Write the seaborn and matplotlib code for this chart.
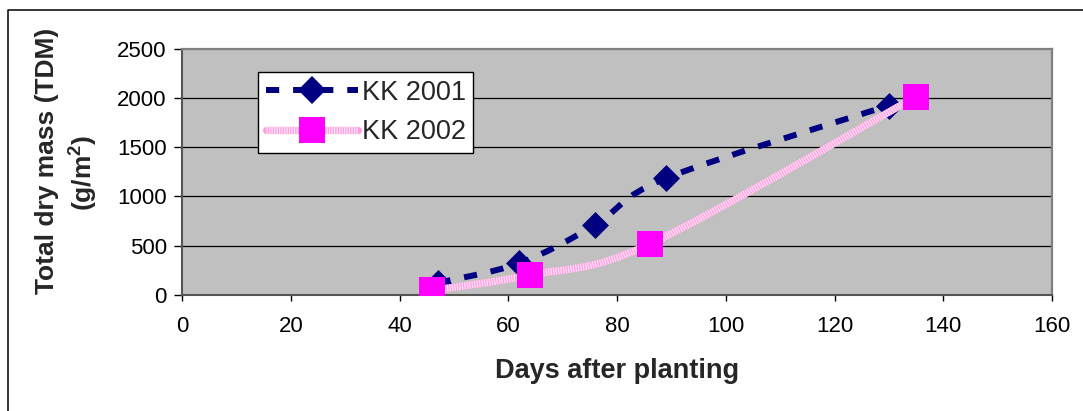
import numpy as np
import matplotlib
matplotlib.use("Agg")
import matplotlib.pyplot as plt
import seaborn as sns
from matplotlib.path import Path
from matplotlib.patches import PathPatch
from matplotlib.lines import Line2D
from matplotlib.legend_handler import HandlerTuple

# Total dry mass over the season for two planting years
days_2001 = [47, 62, 76, 89, 130]
tdm_2001 = [120, 320, 710, 1185, 1925]
days_2002 = [46, 64, 86, 135]
tdm_2002 = [45, 200, 515, 2015]
series_labels = ["KK 2001", "KK 2002"]
x_ticks = [0, 20, 40, 60, 80, 100, 120, 140, 160]
y_ticks = [0, 500, 1000, 1500, 2000, 2500]

NAVY = "#000080"
PINK_LINE = "#FF9FE0"
PINK_STRIPE = "#FFE2F6"
MAGENTA = "#FF00FF"
PLOT_BG = "#C0C0C0"

sns.set_theme(style="white")
plt.rcParams["font.family"] = ["Liberation Sans", "DejaVu Sans"]
plt.rcParams["mathtext.fontset"] = "custom"
plt.rcParams["mathtext.rm"] = "Liberation Sans"
plt.rcParams["mathtext.bf"] = "Liberation Sans:bold"
plt.rcParams["lines.scale_dashes"] = False


def smooth_path(xs, ys):
    """Cubic Bezier path through the points (Catmull-Rom style tangents)."""
    pts = np.column_stack([xs, ys]).astype(float)
    n = len(pts)
    verts = [pts[0]]
    codes = [Path.MOVETO]
    for i in range(n - 1):
        p0 = pts[max(i - 1, 0)]
        p1 = pts[i]
        p2 = pts[i + 1]
        p3 = pts[min(i + 2, n - 1)]
        c1 = p1 + (p2 - p0) / 6.0
        c2 = p2 - (p3 - p1) / 6.0
        verts += [c1, c2, p2]
        codes += [Path.CURVE4] * 3
    return Path(verts, codes)


W, H = 1083, 411
fig = plt.figure(figsize=(W / 100, H / 100), dpi=100)
fig.patch.set_facecolor("white")
ax = fig.add_axes([182 / W, 1 - 294.7 / H, (1052 - 182) / W, (294.7 - 49) / H])
ax.set_facecolor(PLOT_BG)

navy_dash = (0, (9.5, 10))
navy_lw = 4.3
pink_lw = 5.2
stripe_dash = (0, (0.9, 0.9))

# KK 2001: dashed smoothed line with diamonds
ax.add_patch(PathPatch(smooth_path(days_2001, tdm_2001), facecolor="none",
                       edgecolor=NAVY, lw=navy_lw, linestyle=navy_dash,
                       capstyle="butt", zorder=3))
sns.scatterplot(x=days_2001, y=tdm_2001, marker="D", s=13.75 ** 2,
                color=NAVY, edgecolor=NAVY, linewidth=0, ax=ax, zorder=4)

# KK 2002: striped pink smoothed line with squares
path_2002 = smooth_path(days_2002, tdm_2002)
ax.add_patch(PathPatch(path_2002, facecolor="none", edgecolor=PINK_LINE,
                       lw=pink_lw, capstyle="butt", zorder=5))
ax.add_patch(PathPatch(path_2002, facecolor="none", edgecolor=PINK_STRIPE,
                       lw=pink_lw, linestyle=stripe_dash, capstyle="butt",
                       zorder=5.1))
sns.scatterplot(x=days_2002, y=tdm_2002, marker="s", s=19.2 ** 2,
                color=MAGENTA, edgecolor=MAGENTA, linewidth=0, ax=ax, zorder=6)

ax.set_xlim(x_ticks[0], x_ticks[-1])
ax.set_ylim(y_ticks[0], y_ticks[-1])
ax.set_xticks(x_ticks)
ax.set_yticks(y_ticks)
ax.set_xticklabels([str(v) for v in x_ticks])
ax.set_yticklabels([str(v) for v in y_ticks])
ax.tick_params(axis="both", labelsize=16, colors="black")
ax.tick_params(axis="x", direction="out", length=4.5, width=1, pad=11,
               bottom=True)
ax.tick_params(axis="y", direction="out", length=6, width=1, pad=5, left=True)

ax.grid(False)
for v in y_ticks[1:-1]:
    ax.axhline(v, color="black", lw=0.9, zorder=1)

for side in ("top", "right"):
    ax.spines[side].set_color("#808080")
    ax.spines[side].set_linewidth(1.6)
for side in ("left", "bottom"):
    ax.spines[side].set_color("#555555")
    ax.spines[side].set_linewidth(1.5)

ax.set_xlabel("")
ax.set_ylabel("")

fig.text(617 / W, 1 - 371 / H, "Days after planting", ha="center",
         va="center", fontsize=19.5, fontweight="bold")
fig.text(47 / W, 1 - 161 / H, "Total dry mass (TDM)", ha="center",
         va="center", rotation=90, fontsize=19, fontweight="bold")
fig.text(84 / W, 1 - 173 / H, r"(g/m$\mathbf{^2}$)", ha="center",
         va="center", rotation=90, fontsize=19, fontweight="bold")

# Legend
h_2001 = Line2D([], [], color=NAVY, lw=navy_lw, linestyle=navy_dash,
                marker="D", markersize=13.75, markeredgewidth=0,
                markerfacecolor=NAVY)
h_2002 = (
    Line2D([], [], color=PINK_LINE, lw=pink_lw),
    Line2D([], [], color=PINK_STRIPE, lw=pink_lw, linestyle=stripe_dash),
    Line2D([], [], linestyle="none", marker="s", markersize=19.2,
           markeredgewidth=0, markerfacecolor=MAGENTA),
)
leg = ax.legend([h_2001, h_2002], series_labels,
                handler_map={tuple: HandlerTuple(ndivide=1)},
                loc="upper left", bbox_to_anchor=((258 - 182) / 870,
                                                  (294.7 - 72) / 245.7),
                borderaxespad=0, fontsize=19.5, frameon=True, fancybox=False,
                framealpha=1, edgecolor="black", handlelength=3.4,
                handletextpad=0.15, borderpad=0.28, labelspacing=0.5,
                numpoints=1)
leg.get_frame().set_linewidth(1.0)
leg.set_zorder(10)

# Outer chart border (top and left edges)
y_top = 1 - 10 / H
x_left = 8 / W
fig.add_artist(Line2D([x_left, x_left, 1.0], [0.0, y_top, y_top],
                      transform=fig.transFigure, color="black", lw=1.1))

fig.savefig("out.png", dpi=100)
